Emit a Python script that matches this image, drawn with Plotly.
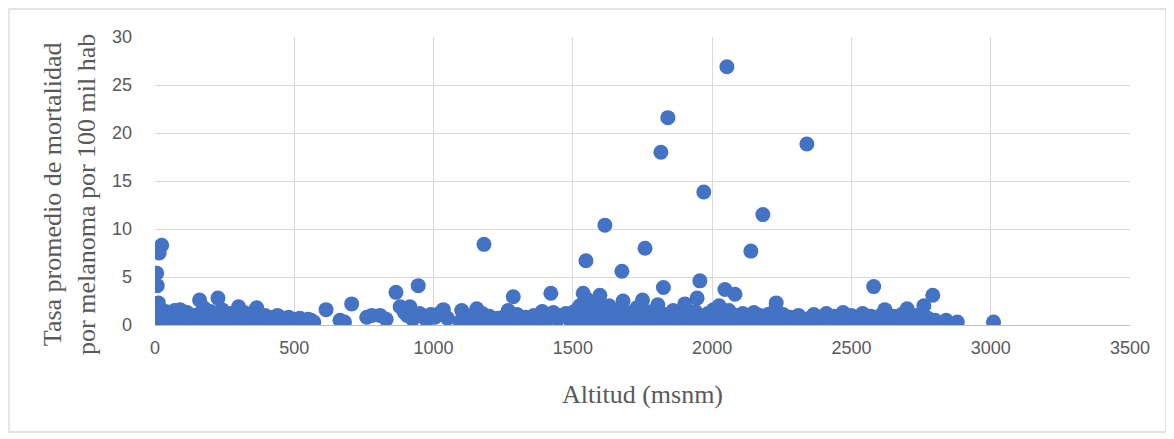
import plotly.graph_objects as go

alt_a = [2, 3, 4, 5, 5, 6, 6, 7, 8, 8, 9, 10, 10, 11, 12, 12, 13, 14, 15, 15, 16, 18, 20, 22, 24, 25, 28, 30, 32, 35, 38]
tasa_a = [0.3, 0.8, 0.1, 1.2, 0.5, 5.4, 0.2, 1.6, 4.1, 0.6, 0.9, 1.0, 0.4, 1.0, 2.3, 0.3, 1.9, 0.7, 7.5, 0.2, 1.3, 0.5, 0.8, 0.4, 8.3, 0.6, 0.3, 0.9, 0.5, 0.2, 1.4]

alt_b = [45, 50, 55, 60, 65, 70, 75, 80, 85, 90, 95, 100, 105, 110, 115, 120, 130, 140, 150, 160, 162, 170, 175, 180, 190, 200, 210, 220, 226, 230, 240, 250, 260, 270, 280, 290, 300, 305, 310, 320, 330, 340, 350, 360, 365, 375, 385, 395, 405, 415, 425, 440, 450, 460, 470, 480, 490, 500, 510, 520, 530, 540, 550, 560, 570]
tasa_b = [0.6, 0.2, 1.2, 0.4, 0.8, 1.5, 0.3, 1.0, 0.5, 1.6, 0.2, 0.7, 1.1, 0.4, 1.3, 0.6, 0.3, 1.0, 0.5, 2.6, 1.2, 0.4, 1.8, 0.7, 0.3, 1.4, 0.6, 1.0, 2.8, 0.4, 1.6, 0.8, 0.3, 1.2, 0.6, 1.0, 1.9, 0.4, 0.8, 1.3, 0.5, 1.0, 0.3, 1.5, 1.8, 0.7, 0.4, 1.0, 0.6, 0.3, 0.8, 1.0, 0.5, 0.7, 0.4, 0.8, 0.3, 0.6, 0.5, 0.7, 0.4, 0.3, 0.6, 0.5, 0.3]

alt_c = [614, 664, 680, 706, 760, 778, 808, 830, 865, 880, 895, 905, 915, 925, 945, 950, 962, 975, 990, 1005, 1020, 1035, 1050]
tasa_c = [1.6, 0.5, 0.3, 2.2, 0.8, 1.0, 1.0, 0.6, 3.4, 1.9, 1.3, 1.0, 1.9, 0.6, 4.1, 1.2, 0.9, 0.5, 1.1, 0.8, 1.2, 1.6, 0.7]

alt_d = [1095, 1101, 1110, 1125, 1140, 1155, 1165, 1175, 1181, 1190, 1200, 1215, 1230, 1245, 1255, 1268, 1280, 1286, 1300, 1315, 1330, 1345, 1360, 1375, 1390, 1400, 1410, 1421, 1430, 1445, 1460, 1475, 1490]
tasa_d = [0.35, 1.5, 0.8, 0.4, 1.0, 1.7, 0.6, 1.2, 8.4, 0.3, 0.9, 0.5, 0.7, 0.3, 0.9, 1.5, 0.6, 2.95, 1.1, 0.5, 0.8, 0.4, 1.0, 0.6, 1.4, 0.3, 0.9, 3.3, 1.3, 0.6, 1.0, 1.2, 0.5]

alt_e = [1505, 1515, 1525, 1530, 1537, 1545, 1547, 1550, 1555, 1560, 1565, 1570, 1575, 1580, 1585, 1590, 1597, 1600, 1605, 1610, 1615, 1620, 1625, 1630, 1640, 1650, 1660, 1670, 1676, 1680, 1685, 1690, 1700, 1710, 1720, 1730, 1740, 1750, 1755, 1759, 1765, 1770, 1780, 1790, 1800, 1805, 1810, 1816, 1820, 1825, 1830, 1841, 1845, 1850, 1860, 1870, 1880, 1890, 1902, 1910, 1920, 1930, 1940, 1946, 1956, 1960, 1970, 1975, 1985, 1995, 2005, 2015, 2025, 2035, 2046, 2050, 2053, 2060, 2070, 2082, 2090, 2100]
tasa_e = [1.4, 0.8, 2.0, 0.3, 3.3, 1.2, 6.7, 2.7, 0.6, 1.8, 0.2, 1.0, 2.3, 0.5, 1.5, 0.3, 3.1, 0.9, 1.9, 0.4, 10.4, 1.3, 0.7, 2.0, 0.3, 1.1, 0.6, 1.6, 5.6, 2.5, 0.4, 1.0, 0.3, 1.3, 0.6, 1.8, 0.2, 2.6, 0.8, 8.0, 1.4, 0.4, 1.0, 0.5, 1.6, 2.1, 0.3, 18.0, 1.2, 3.9, 0.6, 21.6, 1.0, 0.3, 1.5, 0.7, 0.4, 1.2, 2.2, 0.6, 1.0, 0.3, 1.4, 2.8, 4.6, 0.8, 13.85, 0.5, 1.2, 0.3, 1.6, 0.7, 2.0, 1.1, 3.7, 0.4, 26.9, 1.5, 0.6, 3.2, 1.0, 0.4]

alt_f = [2110, 2120, 2130, 2139, 2150, 2160, 2170, 2182, 2190, 2200, 2215, 2225, 2230, 2240, 2255, 2265, 2280, 2295, 2310, 2325, 2340, 2350, 2365, 2380, 2395, 2410, 2425, 2440, 2455, 2470, 2485, 2500, 2510, 2525, 2540, 2555, 2570, 2580, 2590, 2605, 2620, 2635, 2650, 2665, 2680, 2690, 2700, 2715, 2730, 2745, 2760, 2775, 2792, 2800, 2840, 2880, 3010]
tasa_f = [1.2, 0.5, 0.9, 7.7, 1.3, 0.4, 1.0, 11.5, 0.6, 1.1, 0.3, 1.5, 2.3, 0.7, 1.1, 0.3, 0.8, 0.5, 1.0, 0.4, 18.85, 0.7, 1.1, 0.4, 0.8, 1.2, 0.5, 0.9, 0.3, 1.3, 0.6, 1.0, 0.4, 0.8, 1.2, 0.5, 0.9, 4.0, 0.4, 1.0, 1.6, 0.5, 0.9, 0.3, 1.1, 0.4, 1.7, 0.6, 1.0, 0.4, 2.0, 0.7, 3.1, 0.5, 0.5, 0.3, 0.3]

altitud = alt_a + alt_b + alt_c + alt_d + alt_e + alt_f
tasa = tasa_a + tasa_b + tasa_c + tasa_d + tasa_e + tasa_f

x_ticks = [0, 500, 1000, 1500, 2000, 2500, 3000, 3500]
y_ticks = [0, 5, 10, 15, 20, 25, 30]

fig = go.Figure()
fig.add_trace(go.Scatter(
    x=altitud, y=tasa, mode="markers",
    marker=dict(color="#4472C4", size=15, line=dict(width=0)),
    hoverinfo="x+y", showlegend=False,
))

tick_font = dict(family="Liberation Sans, Arial, sans-serif", size=18, color="#595959")
title_font = dict(family="Liberation Serif, Times New Roman, serif", size=26, color="#595959")

fig.update_layout(
    width=1174, height=439,
    margin=dict(l=147, r=52, t=29, b=122),
    paper_bgcolor="white", plot_bgcolor="white",
    xaxis=dict(
        range=[0, 3500], tickvals=x_ticks, ticktext=[str(v) for v in x_ticks],
        showgrid=True, gridcolor="#d9d9d9", gridwidth=1.3,
        zeroline=False, showline=True, linecolor="#bfbfbf", linewidth=1.3,
        tickfont=tick_font, ticks="", ticklabelstandoff=6,
        title=dict(text="Altitud (msnm)", font=title_font, standoff=28),
    ),
    yaxis=dict(
        range=[0, 30], tickvals=y_ticks, ticktext=[str(v) for v in y_ticks],
        showgrid=True, gridcolor="#d9d9d9", gridwidth=1.3,
        zeroline=False, showline=False,
        tickfont=tick_font, ticks="", ticklabelstandoff=22,
    ),
    annotations=[dict(
        text="Tasa promedio de mortalidad<br>por melanoma por 100 mil hab",
        xref="paper", yref="paper", x=(69 - 155) / 975, y=(325 - 195) / 288,
        xanchor="center", yanchor="middle", textangle=-90, showarrow=False,
        font=title_font,
    )],
    shapes=[dict(
        type="rect", xref="paper", yref="paper",
        x0=(9 - 155) / 975, x1=(1166 - 155) / 975,
        y0=(325 - 432) / 288, y1=(325 - 9) / 288,
        line=dict(color="#d9d9d9", width=1.3), fillcolor="rgba(0,0,0,0)", layer="below",
    )],
)

fig.write_html("out.html")
